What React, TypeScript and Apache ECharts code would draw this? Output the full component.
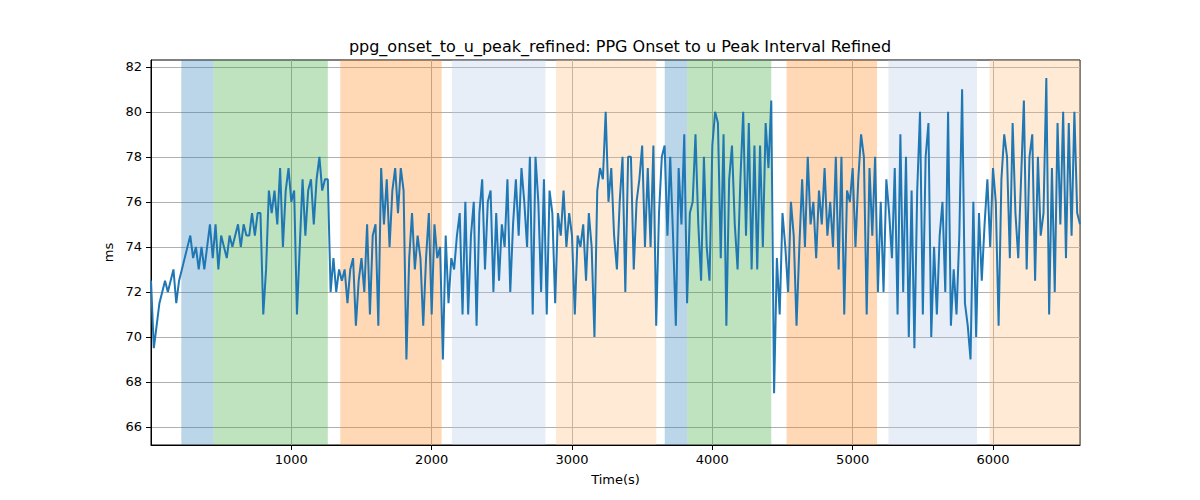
import { useRef, useEffect } from 'react';
import * as echarts from 'echarts';

// time step of the trace (s)
const timeStep = 20;

// interval values (ms), one every 20 s
const intervalMs = [
    72.5, 69.5, 70.5, 71.5, 72, 72.5, 72, 72.5, 73, 71.5,
    72.5, 73, 73.5, 74, 74.5, 73.5, 74, 73, 74, 73,
    74, 75, 73.5, 75, 73, 74.5, 74, 73.5, 74.5, 74,
    74.5, 75, 74, 75, 74.5, 74.5, 75.5, 74.5, 75.5, 75.5,
    71, 73, 76.5, 75.5, 76.5, 75, 77.5, 74, 76.5, 77.5,
    76, 76.5, 71, 74, 77, 74.5, 76.5, 77, 75, 77,
    78, 76.5, 77, 77, 72, 73.5, 72, 73, 72.5, 73,
    71.5, 73, 73.5, 70.5, 72.5, 73.5, 72, 75, 71, 74.5,
    75, 70.5, 77.5, 75, 77, 74, 76.5, 77.5, 75.5, 77.5,
    76.5, 69, 73.5, 75.5, 73, 74.5, 73.5, 70.5, 73.5, 75.5,
    71, 75, 73.5, 74, 69, 74.5, 71.5, 73.5, 73, 74.5,
    75.5, 71, 76, 71, 74.5, 76, 70.5, 75.5, 77, 73,
    76, 76.5, 72, 75.5, 72.5, 75, 74, 77, 72, 75,
    77, 74.5, 77.5, 76, 74, 78, 71, 78, 76, 72,
    77, 71, 76.5, 75.5, 71.5, 75.5, 74.5, 76.5, 74, 75.5,
    74.5, 71, 74.5, 74, 75, 72.5, 75.5, 74, 70, 76.5,
    77.5, 77, 80, 76, 77.5, 74.5, 73, 76, 78, 72,
    78, 78, 73, 76, 77, 78.5, 74, 77.5, 74, 78.5,
    70.5, 75.5, 78, 78.5, 74.5, 78, 74.5, 70.5, 77.5, 75,
    79, 71.5, 75.5, 76, 79, 75, 72.5, 78, 74, 72.5,
    78.5, 80, 79.5, 73.5, 79, 70.5, 77, 78.5, 75, 73,
    77, 80, 74.5, 79.5, 73, 78.5, 73, 78.5, 74, 79.5,
    77.5, 80.5, 67.5, 73.5, 71, 75.5, 74, 72, 76, 74.5,
    70.5, 74, 77, 74, 78, 75, 76, 73.5, 76.5, 75,
    77.5, 74.5, 76, 74, 78, 73, 78, 71, 76.5, 76,
    77.5, 74, 77, 79, 78, 71, 77.5, 74.5, 78, 72,
    76, 72, 77, 75.5, 73.5, 77.5, 71, 79, 72, 78,
    70, 76.5, 69.5, 76.5, 80, 71, 78, 79.5, 70, 74,
    71, 74.5, 76, 72, 80, 70.5, 73, 71, 74.5, 81,
    71.5, 70.5, 69, 76, 70, 75.5, 72.5, 75, 77, 74,
    77.5, 76, 70.5, 77, 79, 78, 73.5, 79.5, 75.5, 73.5,
    77, 80.5, 73, 78, 79, 72.5, 78, 74.5, 75.5, 81.5,
    71, 77.5, 72, 79.5, 75, 80, 73.5, 79.5, 74.5, 80,
    75.5, 75,
];

// shaded phases (s)
const spanStart = [216, 446, 1349, 2144, 2885, 3661, 3822, 4529, 5255, 5976];
const spanEnd = [446, 1260, 2071, 2811, 3601, 3822, 4420, 5174, 5886, 6620];
const spanKind = ['blue', 'green', 'orange', 'lightblue', 'lightorange', 'blue', 'green', 'orange', 'lightblue', 'lightorange'];

const xTicks = [1000, 2000, 3000, 4000, 5000, 6000];
const yTicks = [66, 68, 70, 72, 74, 76, 78, 80, 82];

const spanColors: Record<string, string> = {
    blue: '#1f77b4',
    green: '#2ca02c',
    orange: '#ff7f0e',
    lightblue: '#aec7e8',
    lightorange: '#ffbb78',
};

const font = 'DejaVu Sans';

const App: React.FC = () => {
    const chartRef = useRef<HTMLDivElement>(null);

    useEffect(() => {
        document.body.style.margin = '0';
        if (!chartRef.current) return;
        const chart = echarts.init(chartRef.current, undefined, { renderer: 'svg' });

        const points = intervalMs.map((v, i) => [i * timeStep, v]);
        const areas = spanStart.map((s, i) => [
            { xAxis: s, itemStyle: { color: spanColors[spanKind[i]], opacity: 0.3 } },
            { xAxis: spanEnd[i] },
        ]);

        const option: echarts.EChartsOption = {
            animation: false,
            title: {
                text: 'ppg_onset_to_u_peak_refined: PPG Onset to u Peak Interval Refined',
                left: 615,
                top: 33,
                textAlign: 'center',
                textStyle: { fontFamily: font, fontSize: 16, fontWeight: 'normal', color: '#000' },
            },
            grid: {
                left: 151,
                right: 120,
                top: 60,
                bottom: 55,
                show: true,
                borderColor: '#000',
                borderWidth: 1,
                backgroundColor: 'transparent',
            },
            xAxis: {
                type: 'value',
                min: 0,
                max: 6620,
                name: 'Time(s)',
                nameLocation: 'middle',
                nameGap: 28,
                nameTextStyle: { fontFamily: font, fontSize: 13, color: '#000' },
                axisLine: { show: true, lineStyle: { color: '#000', width: 1 } },
                axisTick: { show: true, length: 5, lineStyle: { color: '#000' }, customValues: xTicks },
                axisLabel: {
                    fontFamily: font, fontSize: 13, color: '#000', margin: 8, customValues: xTicks,
                    formatter: (v: number) => String(v),
                },
                splitLine: { show: true, lineStyle: { color: '#b0b0b0', width: 1 } },
            },
            yAxis: {
                type: 'value',
                min: 65.2,
                max: 82.3,
                name: 'ms',
                nameLocation: 'middle',
                nameGap: 36,
                nameTextStyle: { fontFamily: font, fontSize: 13, color: '#000' },
                axisLine: { show: true, lineStyle: { color: '#000', width: 1 } },
                axisTick: { show: true, length: 5, lineStyle: { color: '#000' }, customValues: yTicks },
                axisLabel: {
                    fontFamily: font, fontSize: 13, color: '#000', margin: 9, customValues: yTicks,
                    formatter: (v: number) => String(v),
                },
                splitLine: { show: true, lineStyle: { color: '#b0b0b0', width: 1 } },
            },
            series: [
                {
                    type: 'line',
                    data: points,
                    symbol: 'none',
                    lineStyle: { color: '#1f77b4', width: 2 },
                    itemStyle: { color: '#1f77b4' },
                    markArea: {
                        silent: true,
                        label: { show: false },
                        data: areas as any,
                    },
                    z: 3,
                },
            ],
        };

        chart.setOption(option);

        return () => {
            chart.dispose();
        };
    }, []);

    return <div ref={chartRef} style={{ width: '1200px', height: '500px' }} />;
};

export default App;
